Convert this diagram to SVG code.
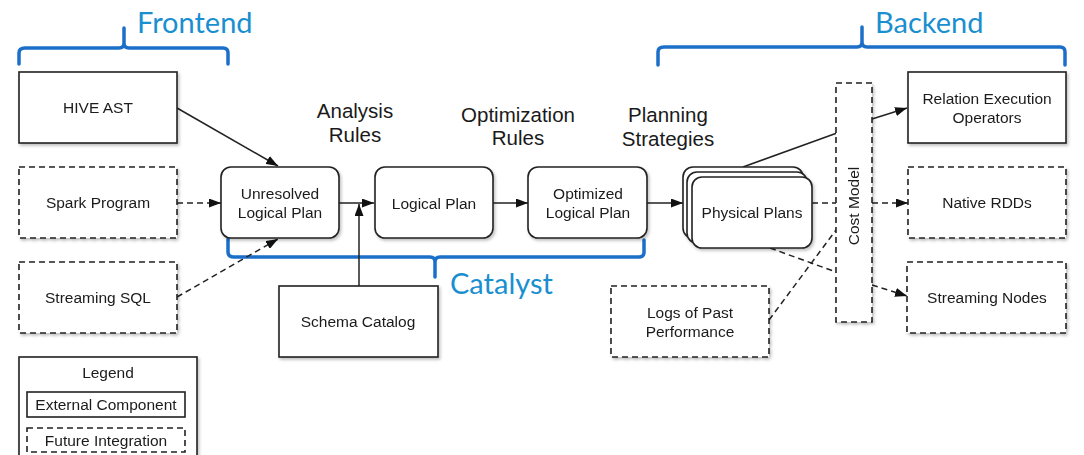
<svg xmlns="http://www.w3.org/2000/svg" width="1084" height="455" viewBox="0 0 1084 455">
<style>
.box{fill:#fff;stroke:#222;stroke-width:1.6}
.dbox{fill:#fff;stroke:#222;stroke-width:1.6;stroke-dasharray:6,4}
.t{font-family:"Liberation Sans",Arial,sans-serif;font-size:15.5px;fill:#1a1a1a;text-anchor:middle}
.h{font-family:"Liberation Sans",Arial,sans-serif;font-size:20.5px;fill:#1a1a1a;text-anchor:middle}
.blue{font-family:Lato,"Open Sans",sans-serif;font-size:29px;fill:#1a8fd0}
.br{fill:none;stroke:#1b6fc8;stroke-width:3.5;stroke-linecap:round}
.c{fill:none;stroke:#222;stroke-width:1.5}
.cd{fill:none;stroke:#222;stroke-width:1.5;stroke-dasharray:6,4}
</style>
<defs>
<marker id="ah" viewBox="0 0 12 9" refX="12" refY="4.5" markerWidth="12" markerHeight="9" markerUnits="userSpaceOnUse" orient="auto">
<path d="M0,0 L12,4.5 L0,9 z" fill="#111"/>
</marker>
<filter id="sh" x="-10%" y="-10%" width="130%" height="130%">
<feDropShadow dx="1.5" dy="2" stdDeviation="1.5" flood-color="#000" flood-opacity="0.25"/>
</filter>
</defs>
<rect width="1084" height="455" fill="#fff"/>

<g id="brackets">
<path class="br" d="M19,64 V53 Q19,48 25,48 H119 Q124,48 124,43 V28 M124,43 Q124,48 129,48 H223 Q228,48 228,53 V64"/>
<path class="br" d="M228,239 V252 Q228,257 234,257 H430 Q435,257 435,262 V277 M435,262 Q435,257 440,257 H639 Q644,257 644,252 V240"/>
<path class="br" d="M658,65 V52 Q658,47 664,47 H857 Q862,47 862,42 V27 M862,42 Q862,47 867,47 H1060 Q1065,47 1065,52 V65"/>
<text class="blue" x="137" y="33">Frontend</text>
<text class="blue" x="450" y="294">Catalyst</text>
<text class="blue" x="875" y="33">Backend</text>
</g>

<g id="labels">
<text class="h" x="355" y="118">Analysis</text>
<text class="h" x="355" y="142">Rules</text>
<text class="h" x="518" y="122">Optimization</text>
<text class="h" x="518" y="145">Rules</text>
<text class="h" x="668" y="122">Planning</text>
<text class="h" x="668" y="146">Strategies</text>
</g>

<g id="connectors">
<line class="c" x1="177" y1="108" x2="278" y2="166" marker-end="url(#ah)"/>
<line class="cd" x1="177" y1="203" x2="221" y2="203" marker-end="url(#ah)"/>
<line class="cd" x1="177" y1="297" x2="278" y2="239" marker-end="url(#ah)"/>
<line class="c" x1="339" y1="203" x2="374" y2="203" marker-end="url(#ah)"/>
<line class="c" x1="359" y1="286" x2="359" y2="204" marker-end="url(#ah)"/>
<line class="c" x1="493" y1="203" x2="528" y2="203" marker-end="url(#ah)"/>
<line class="c" x1="647" y1="203" x2="683" y2="203" marker-end="url(#ah)"/>
<line class="c" x1="743" y1="167" x2="837" y2="133"/>
<line class="c" x1="872" y1="119" x2="907" y2="108" marker-end="url(#ah)"/>
<line class="cd" x1="812" y1="203" x2="836" y2="203"/>
<line class="cd" x1="872" y1="203" x2="908" y2="203" marker-end="url(#ah)"/>
<line class="cd" x1="770" y1="248" x2="836" y2="272"/>
<line class="cd" x1="872" y1="285" x2="907" y2="296" marker-end="url(#ah)"/>
<line class="cd" x1="769" y1="320" x2="836" y2="230"/>
</g>

<g id="hive-ast" filter="url(#sh)"><rect class="box" x="19" y="72" width="158" height="71"/><text class="t" x="98" y="113">HIVE AST</text></g>
<g id="spark-program" filter="url(#sh)"><rect class="dbox" x="19" y="167" width="158" height="71"/><text class="t" x="98" y="208">Spark Program</text></g>
<g id="streaming-sql" filter="url(#sh)"><rect class="dbox" x="19" y="262" width="158" height="71"/><text class="t" x="98" y="303">Streaming SQL</text></g>

<g id="unresolved-logical-plan" filter="url(#sh)"><rect class="box" x="221" y="167" width="118" height="71" rx="10"/><text class="t" x="280" y="199">Unresolved</text><text class="t" x="280" y="218">Logical Plan</text></g>
<g id="logical-plan" filter="url(#sh)"><rect class="box" x="375" y="167" width="118" height="71" rx="10"/><text class="t" x="434" y="209">Logical Plan</text></g>
<g id="optimized-logical-plan" filter="url(#sh)"><rect class="box" x="528" y="167" width="119" height="71" rx="10"/><text class="t" x="588" y="199">Optimized</text><text class="t" x="588" y="218">Logical Plan</text></g>

<g id="physical-plans" filter="url(#sh)">
<rect class="box" x="683" y="167" width="120" height="71" rx="10"/>
<rect class="box" x="687" y="172" width="120" height="71" rx="10"/>
<rect class="box" x="692" y="177" width="120" height="71" rx="10"/>
<text class="t" x="752" y="218">Physical Plans</text>
</g>

<g id="schema-catalog" filter="url(#sh)"><rect class="box" x="279" y="286" width="159" height="71"/><text class="t" x="358" y="327">Schema Catalog</text></g>
<g id="logs-of-past-performance" filter="url(#sh)"><rect class="dbox" x="611" y="286" width="158" height="71"/><text class="t" x="690" y="318">Logs of Past</text><text class="t" x="690" y="337">Performance</text></g>

<g id="cost-model" filter="url(#sh)"><rect class="dbox" x="836" y="83" width="36" height="239"/><text class="t" transform="translate(859,206) rotate(-90)">Cost Model</text></g>

<g id="relation-execution-operators" filter="url(#sh)"><rect class="box" x="908" y="72" width="158" height="71"/><text class="t" x="987" y="104">Relation Execution</text><text class="t" x="987" y="123">Operators</text></g>
<g id="native-rdds" filter="url(#sh)"><rect class="dbox" x="908" y="167" width="158" height="71"/><text class="t" x="987" y="208">Native RDDs</text></g>
<g id="streaming-nodes" filter="url(#sh)"><rect class="dbox" x="907" y="262" width="159" height="71"/><text class="t" x="987" y="303">Streaming Nodes</text></g>

<g id="legend" filter="url(#sh)">
<rect class="box" x="19" y="357" width="178" height="110"/>
<text class="t" x="108" y="378">Legend</text>
<rect class="box" x="27" y="392" width="158" height="25"/>
<text class="t" x="106" y="410">External Component</text>
<rect class="dbox" x="27" y="428" width="158" height="24"/>
<text class="t" x="106" y="446">Future Integration</text>
</g>
</svg>
